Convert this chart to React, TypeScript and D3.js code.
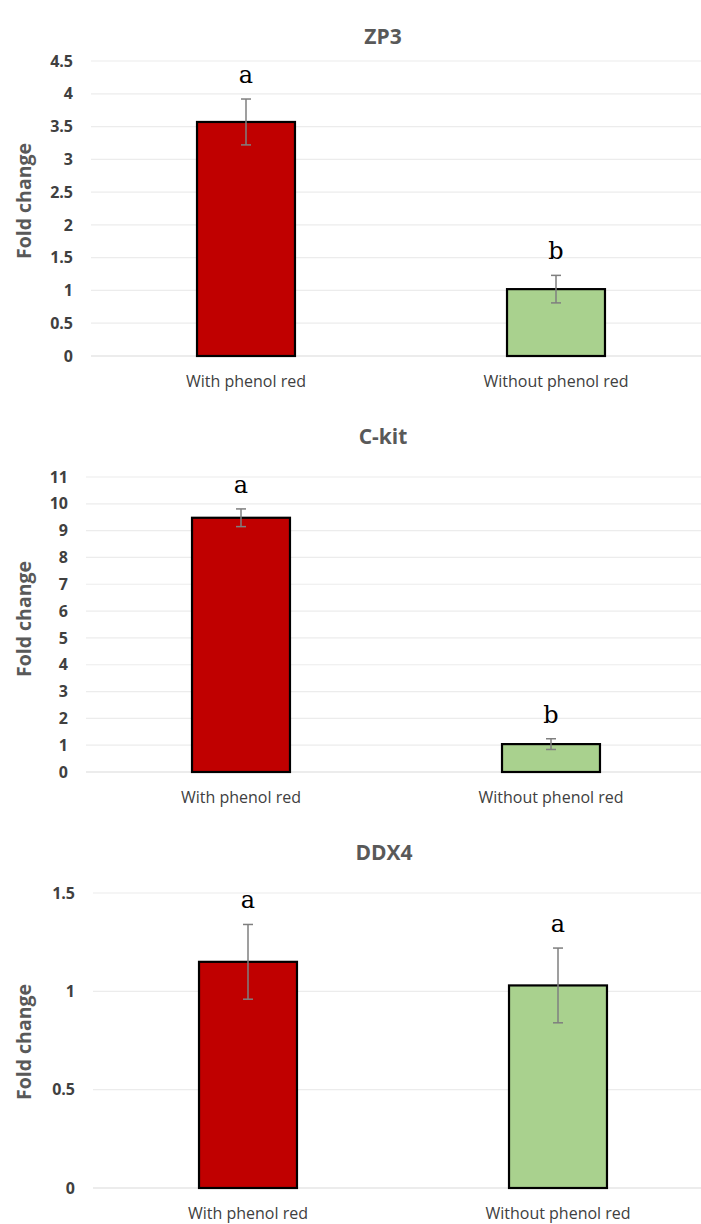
import { useRef, useEffect } from 'react'
import * as d3 from 'd3'

const categories = ['With phenol red', 'Without phenol red']
const barColors = ['#C00000', '#A9D18E']

const zp3Means = [3.57, 1.02]
const zp3Errors = [0.35, 0.21]
const zp3Letters = ['a', 'b']
const zp3Ticks = [0, 0.5, 1, 1.5, 2, 2.5, 3, 3.5, 4, 4.5]

const ckitMeans = [9.48, 1.04]
const ckitErrors = [0.33, 0.2]
const ckitLetters = ['a', 'b']
const ckitTicks = [0, 1, 2, 3, 4, 5, 6, 7, 8, 9, 10, 11]

const ddx4Means = [1.15, 1.03]
const ddx4Errors = [0.19, 0.19]
const ddx4Letters = ['a', 'a']
const ddx4Ticks = [0, 0.5, 1, 1.5]

const panels = [
	{ title: 'ZP3', means: zp3Means, errors: zp3Errors, letters: zp3Letters, ticks: zp3Ticks, top: 61, bottom: 356, left: 91, titleX: 383, titleY: 44, axisTitleY: 201 },
	{ title: 'C-kit', means: ckitMeans, errors: ckitErrors, letters: ckitLetters, ticks: ckitTicks, top: 477, bottom: 772, left: 86, titleX: 383, titleY: 444, axisTitleY: 619 },
	{ title: 'DDX4', means: ddx4Means, errors: ddx4Errors, letters: ddx4Letters, ticks: ddx4Ticks, top: 893, bottom: 1188, left: 93, titleX: 384, titleY: 860, axisTitleY: 1042 },
]

const sans = '"Open Sans", sans-serif'

export default function App() {
	const ref = useRef<SVGSVGElement>(null)

	useEffect(() => {
		const svg = d3.select(ref.current)
		svg.selectAll('*').remove()

		panels.forEach((p) => {
			const g = svg.append('g')
			const y = d3
				.scaleLinear()
				.domain([0, d3.max(p.ticks) as number])
				.range([p.bottom, p.top])
			const x = d3
				.scalePoint()
				.domain(categories)
				.range([p.left, p.left + 620])
				.padding(0.5)
			const barW = x.step() * 0.316

			// gridlines
			g.selectAll('line.grid')
				.data(p.ticks)
				.join('line')
				.attr('class', 'grid')
				.attr('x1', p.left)
				.attr('x2', 701)
				.attr('y1', (d) => y(d))
				.attr('y2', (d) => y(d))
				.attr('stroke', (d) => (d === 0 ? '#d9d9d9' : '#ececec'))
				.attr('stroke-width', 1.2)

			// y axis
			g.append('g')
				.attr('transform', `translate(${p.left},0)`)
				.call(d3.axisLeft(y).tickValues(p.ticks).tickSize(0).tickPadding(18).tickFormat((d) => String(d)))
				.call((a) => a.select('.domain').remove())
				.call((a) =>
					a
						.selectAll('.tick text')
						.attr('fill', '#404040')
						.attr('font-size', 16)
						.attr('font-weight', 700)
						.attr('font-family', sans)
				)

			// bars
			categories.forEach((c, i) => {
				const cx = x(c) as number
				const m = p.means[i]
				const e = p.errors[i]
				g.append('rect')
					.attr('x', cx - barW / 2)
					.attr('y', y(m))
					.attr('width', barW)
					.attr('height', y(0) - y(m))
					.attr('fill', barColors[i])
					.attr('stroke', '#000')
					.attr('stroke-width', 2.2)

				g.append('line')
					.attr('x1', cx)
					.attr('x2', cx)
					.attr('y1', y(m + e))
					.attr('y2', y(m - e))
					.attr('stroke', '#7f7f7f')
					.attr('stroke-width', 1.5)
				;[m + e, m - e].forEach((v) => {
					g.append('line')
						.attr('x1', cx - 5)
						.attr('x2', cx + 5)
						.attr('y1', y(v))
						.attr('y2', y(v))
						.attr('stroke', '#7f7f7f')
						.attr('stroke-width', 1.5)
				})

				g.append('text')
					.attr('x', cx)
					.attr('y', y(m + e) - 16)
					.attr('text-anchor', 'middle')
					.attr('font-family', '"DejaVu Serif", serif')
					.attr('font-size', 24)
					.attr('fill', '#000')
					.text(p.letters[i])

				g.append('text')
					.attr('x', cx)
					.attr('y', p.bottom + 31)
					.attr('text-anchor', 'middle')
					.attr('font-family', sans)
					.attr('font-size', 16)
					.attr('fill', '#404040')
					.text(c)
			})

			// title
			g.append('text')
				.attr('x', p.titleX)
				.attr('y', p.titleY)
				.attr('text-anchor', 'middle')
				.attr('font-family', sans)
				.attr('font-size', 21)
				.attr('font-weight', 700)
				.attr('fill', '#595959')
				.text(p.title)

			// axis title
			g.append('text')
				.attr('transform', `translate(31,${p.axisTitleY}) rotate(-90)`)
				.attr('text-anchor', 'middle')
				.attr('font-family', sans)
				.attr('font-size', 19.5)
				.attr('font-weight', 700)
				.attr('fill', '#595959')
				.text('Fold change')
		})
	}, [])

	return (
		<div>
			<svg ref={ref} width={701} height={1224} style={{ position: 'absolute', left: 0, top: 0, background: '#fff' }}></svg>
		</div>
	)
}
